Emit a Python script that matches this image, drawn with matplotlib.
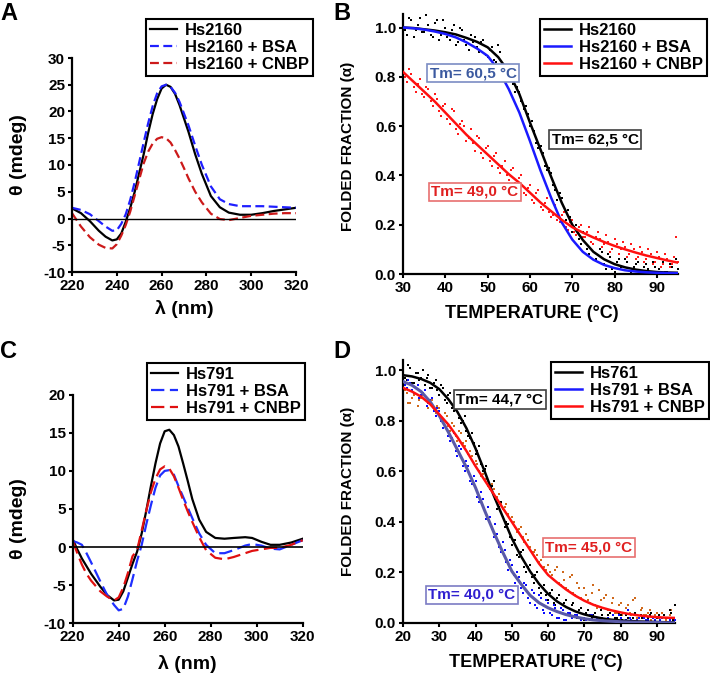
import numpy as np
import matplotlib
matplotlib.use('Agg')
import matplotlib.pyplot as plt
from matplotlib.lines import Line2D

plt.rcParams['font.family'] = ['Liberation Sans', 'DejaVu Sans']
plt.rcParams['font.weight'] = 'bold'
plt.rcParams['axes.unicode_minus'] = False

# ---------------- panel A : CD spectra Hs2160 ----------------
wl_a = [220, 224, 228, 232, 235, 238, 240, 242, 244, 246, 248, 250, 252, 254, 256, 258, 260,
        262, 264, 266, 268, 270, 272, 275, 278, 282, 286, 290, 295, 300, 305, 310, 315, 320]
hs2160 = [1.9, 1.0, -0.5, -2.3, -3.4, -4.1, -3.9, -2.8, -0.6, 2.0, 5.0, 8.5, 12.0, 16.0, 19.5,
          22.3, 24.3, 25.0, 24.6, 23.3, 21.2, 18.7, 16.2, 12.0, 8.3, 4.2, 2.1, 1.1, 0.7, 0.7,
          1.0, 1.4, 1.7, 2.0]
hs2160_bsa = [2.0, 1.6, 0.8, -0.5, -1.5, -2.3, -2.2, -1.0, 0.8, 3.5, 6.8, 10.5, 14.2, 17.8, 21.0,
              23.4, 24.7, 25.0, 24.6, 23.5, 21.8, 19.6, 17.4, 13.6, 10.0, 6.0, 3.6, 2.7, 2.3, 2.3,
              2.3, 2.2, 2.1, 2.0]
hs2160_cnbp = [1.0, -1.5, -3.5, -4.9, -5.5, -5.6, -4.8, -3.2, -1.2, 1.3, 4.3, 7.3, 10.3, 12.5, 14.0,
               14.9, 15.2, 15.0, 14.2, 12.8, 11.2, 9.4, 7.5, 5.0, 3.0, 0.9, -0.1, -0.3, 0.1, 0.5,
               0.7, 0.9, 1.0, 1.0]

# ---------------- panel C : CD spectra Hs791 ----------------
wl_c = [220, 222, 224, 226, 228, 232, 235, 238, 240, 242, 244, 246, 248, 250, 252, 254, 256, 258,
        260, 262, 264, 266, 268, 270, 272, 275, 278, 282, 286, 290, 295, 298, 302, 306, 310, 315, 320]
hs791 = [1.0, -0.3, -1.5, -2.5, -3.5, -5.2, -6.3, -7.0, -6.9, -5.8, -4.0, -2.2, -0.6, 1.8, 4.8,
         8.0, 11.0, 13.6, 15.2, 15.4, 14.7, 13.2, 11.0, 8.7, 6.3, 3.6, 2.0, 1.2, 1.1, 1.2, 1.3,
         1.2, 0.7, 0.3, 0.3, 0.6, 1.1]
hs791_bsa = [0.8, 0.6, 0.3, -0.8, -2.0, -4.5, -6.3, -7.6, -8.3, -8.1, -6.5, -4.2, -1.8, 0.3, 3.0,
             5.5, 7.8, 9.4, 10.0, 10.1, 9.5, 8.0, 6.6, 5.2, 3.8, 1.8, 0.3, -0.8, -0.8, -0.4, 0.2,
             0.4, 0.2, -0.2, -0.3, 0.3, 0.9]
hs791_cnbp = [0.8, -0.8, -2.3, -3.5, -4.4, -5.8, -6.5, -7.0, -6.6, -5.3, -3.4, -1.2, -0.4, 2.2, 4.8,
              7.2, 9.0, 10.2, 10.6, 10.3, 9.3, 7.8, 6.2, 4.7, 3.3, 1.3, -0.4, -1.4, -1.6, -1.3, -0.8,
              -0.5, -0.3, -0.1, -0.1, 0.3, 0.9]

# ---------------- panel B : melting Hs2160 ----------------
temp_b = [30, 32.5, 35, 37.5, 40, 42.5, 45, 47.5, 50, 52.5, 55, 57.5, 60, 62.5, 65, 67.5, 70,
          72.5, 75, 77.5, 80, 82.5, 85, 87.5, 90, 92.5, 95]
fit_b_black = [1.0, 0.998, 0.993, 0.988, 0.981, 0.972, 0.958, 0.942, 0.92, 0.88, 0.82, 0.73, 0.615,
               0.505, 0.395, 0.29, 0.2, 0.138, 0.09, 0.06, 0.04, 0.027, 0.018, 0.012, 0.008, 0.006, 0.005]
fit_b_blue = [1.0, 0.997, 0.992, 0.984, 0.974, 0.96, 0.94, 0.915, 0.885, 0.83, 0.75, 0.655, 0.54,
              0.42, 0.31, 0.21, 0.14, 0.09, 0.058, 0.037, 0.024, 0.015, 0.01, 0.007, 0.005, 0.004, 0.003]
fit_b_red = [0.82, 0.78, 0.74, 0.70, 0.655, 0.61, 0.565, 0.525, 0.485, 0.445, 0.405, 0.37, 0.33,
             0.29, 0.255, 0.22, 0.19, 0.168, 0.148, 0.13, 0.114, 0.1, 0.087, 0.075, 0.065, 0.055, 0.046]

# raw points, two scans (integer and half-degree temperatures)
scan1_b = np.arange(30, 96, 1)
scan2_b = np.arange(30.5, 95, 1)
dots_b_black1 = [1.02, 0.97, 1.03, 0.99, 1.04, 0.98, 1.01, 0.96, 1.03, 0.97,
                 1.00, 0.95, 1.01, 0.94, 0.99, 0.93, 0.97, 0.96, 0.90, 0.95,
                 0.88, 0.92, 0.86, 0.90, 0.82, 0.84, 0.77, 0.76, 0.70, 0.68,
                 0.60, 0.58, 0.51, 0.49, 0.42, 0.41, 0.34, 0.33, 0.25, 0.26,
                 0.17, 0.20, 0.12, 0.15, 0.08, 0.12, 0.05, 0.09, 0.02, 0.07,
                 0.01, 0.06, 0.00, 0.05, 0.01, 0.04, 0.00, 0.03, 0.02, 0.05,
                 0.00, 0.03, 0.01, 0.04, 0.00, 0.02]
dots_b_black2 = [0.99, 1.04, 0.96, 1.01, 0.98, 1.05, 0.97, 1.02, 0.95, 1.03,
                 0.96, 0.99, 0.93, 1.00, 0.95, 0.91, 0.94, 0.92, 0.94, 0.89,
                 0.91, 0.87, 0.93, 0.83, 0.85, 0.79, 0.74, 0.74, 0.67, 0.65,
                 0.62, 0.53, 0.52, 0.44, 0.43, 0.36, 0.30, 0.31, 0.22, 0.23,
                 0.19, 0.14, 0.17, 0.10, 0.13, 0.06, 0.10, 0.04, 0.08, 0.02,
                 0.05, 0.03, 0.06, 0.00, 0.03, 0.05, 0.01, 0.04, 0.00, 0.03,
                 0.02, 0.05, 0.01, 0.03, 0.06]
dots_b_red1 = [0.84, 0.78, 0.81, 0.74, 0.79, 0.72, 0.75, 0.68, 0.71, 0.64,
               0.69, 0.61, 0.66, 0.57, 0.62, 0.54, 0.59, 0.50, 0.55, 0.47,
               0.52, 0.44, 0.49, 0.41, 0.46, 0.38, 0.43, 0.35, 0.40, 0.32,
               0.36, 0.29, 0.34, 0.26, 0.31, 0.23, 0.28, 0.21, 0.25, 0.18,
               0.22, 0.16, 0.20, 0.15, 0.19, 0.12, 0.17, 0.11, 0.16, 0.09,
               0.14, 0.08, 0.13, 0.07, 0.12, 0.06, 0.11, 0.05, 0.10, 0.04,
               0.09, 0.03, 0.08, 0.03, 0.07, 0.05]
dots_b_red2 = [0.80, 0.83, 0.76, 0.77, 0.73, 0.76, 0.70, 0.73, 0.66, 0.68,
               0.63, 0.67, 0.59, 0.61, 0.60, 0.55, 0.53, 0.56, 0.49, 0.51,
               0.46, 0.48, 0.43, 0.44, 0.40, 0.42, 0.37, 0.39, 0.33, 0.35,
               0.30, 0.33, 0.27, 0.29, 0.25, 0.24, 0.22, 0.24, 0.19, 0.21,
               0.17, 0.19, 0.15, 0.17, 0.13, 0.15, 0.14, 0.12, 0.13, 0.10,
               0.12, 0.10, 0.11, 0.08, 0.10, 0.07, 0.09, 0.06, 0.08, 0.05,
               0.07, 0.04, 0.06, 0.04, 0.15]

# ---------------- panel D : melting Hs791 ----------------
temp_d = [20, 22.5, 25, 27.5, 30, 32.5, 35, 37.5, 40, 42.5, 45, 47.5, 50, 52.5, 55, 57.5, 60,
          62.5, 65, 67.5, 70, 72.5, 75, 77.5, 80, 82.5, 85, 87.5, 90, 92.5, 95]
fit_d_black = [0.98, 0.975, 0.965, 0.95, 0.925, 0.885, 0.835, 0.77, 0.69, 0.6, 0.505, 0.42, 0.335,
               0.265, 0.205, 0.155, 0.115, 0.085, 0.063, 0.046, 0.034, 0.025, 0.018, 0.013, 0.01,
               0.008, 0.006, 0.005, 0.004, 0.003, 0.003]
fit_d_blue = [0.955, 0.94, 0.915, 0.875, 0.82, 0.755, 0.685, 0.615, 0.535, 0.445, 0.36, 0.28, 0.205,
              0.155, 0.11, 0.08, 0.06, 0.045, 0.033, 0.024, 0.017, 0.012, 0.009, 0.007, 0.005,
              0.004, 0.003, 0.002, 0.002, 0.001, 0.001]
fit_d_red = [0.93, 0.915, 0.895, 0.865, 0.825, 0.785, 0.735, 0.68, 0.62, 0.565, 0.51, 0.455, 0.4,
             0.345, 0.29, 0.235, 0.19, 0.16, 0.132, 0.108, 0.088, 0.072, 0.06, 0.05, 0.042,
             0.035, 0.03, 0.026, 0.023, 0.021, 0.02]

scan1_d = np.arange(20, 96, 1)
scan2_d = np.arange(20.5, 95, 1)
dots_d_black1 = [1.00, 0.96, 1.01, 0.95, 0.99, 0.97, 0.94, 0.98, 0.93, 0.96,
                 0.90, 0.93, 0.87, 0.91, 0.84, 0.87, 0.79, 0.82, 0.74, 0.75,
                 0.67, 0.70, 0.60, 0.62, 0.53, 0.56, 0.45, 0.48, 0.38, 0.39,
                 0.31, 0.33, 0.26, 0.29, 0.20, 0.23, 0.16, 0.20, 0.12, 0.15,
                 0.09, 0.13, 0.07, 0.11, 0.05, 0.09, 0.03, 0.08, 0.02, 0.06,
                 0.01, 0.05, 0.02, 0.04, 0.00, 0.03, 0.01, 0.04, 0.00, 0.02,
                 0.03, 0.00, 0.02, 0.01, 0.04, 0.00, 0.02, 0.01, 0.03, 0.00,
                 0.02, 0.01, 0.03, 0.00, 0.04, 0.07]
dots_d_black2 = [0.97, 1.02, 0.95, 0.99, 0.96, 1.00, 0.97, 0.93, 0.95, 0.92,
                 0.94, 0.88, 0.90, 0.85, 0.86, 0.81, 0.80, 0.76, 0.73, 0.71,
                 0.68, 0.63, 0.61, 0.55, 0.54, 0.49, 0.46, 0.42, 0.40, 0.34,
                 0.33, 0.27, 0.28, 0.22, 0.22, 0.18, 0.19, 0.14, 0.14, 0.11,
                 0.12, 0.08, 0.10, 0.06, 0.08, 0.04, 0.07, 0.03, 0.05, 0.02,
                 0.04, 0.01, 0.03, 0.02, 0.05, 0.00, 0.03, 0.01, 0.02, 0.04,
                 0.01, 0.03, 0.00, 0.02, 0.01, 0.03, 0.00, 0.02, 0.04, 0.01,
                 0.03, 0.00, 0.02, 0.05, 0.01]
dots_d_blue1 = [0.97, 0.93, 0.95, 0.91, 0.94, 0.90, 0.92, 0.87, 0.89, 0.82,
                0.84, 0.77, 0.79, 0.72, 0.75, 0.66, 0.69, 0.60, 0.62, 0.55,
                0.56, 0.48, 0.49, 0.41, 0.42, 0.34, 0.35, 0.28, 0.29, 0.21,
                0.23, 0.16, 0.18, 0.12, 0.15, 0.08, 0.12, 0.06, 0.10, 0.04,
                0.08, 0.03, 0.06, 0.02, 0.05, 0.01, 0.04, 0.00, 0.03, 0.01,
                0.02, 0.00, 0.03, 0.01, 0.00, 0.02, 0.00, 0.01, 0.03, 0.00,
                0.02, 0.00, 0.05, 0.01, 0.00, 0.02, 0.00, 0.01, 0.00, 0.02,
                0.00, 0.01, 0.00, 0.02, 0.00, 0.01]
dots_d_blue2 = [0.94, 0.96, 0.92, 0.93, 0.89, 0.91, 0.86, 0.88, 0.84, 0.85,
                0.80, 0.78, 0.74, 0.73, 0.68, 0.70, 0.62, 0.64, 0.56, 0.58,
                0.50, 0.52, 0.44, 0.46, 0.37, 0.39, 0.30, 0.32, 0.24, 0.25,
                0.19, 0.20, 0.14, 0.16, 0.10, 0.13, 0.07, 0.11, 0.05, 0.09,
                0.04, 0.07, 0.02, 0.06, 0.01, 0.04, 0.02, 0.03, 0.00, 0.02,
                0.01, 0.03, 0.00, 0.02, 0.01, 0.00, 0.02, 0.00, 0.01, 0.03,
                0.00, 0.01, 0.02, 0.00, 0.01, 0.00, 0.02, 0.01, 0.00, 0.01,
                0.00, 0.02, 0.00, 0.01, 0.00]
dots_d_orange1 = [0.88, 0.91, 0.87, 0.90, 0.86, 0.89, 0.92, 0.85, 0.88, 0.83,
                  0.85, 0.80, 0.82, 0.76, 0.78, 0.72, 0.75, 0.70, 0.67, 0.66,
                  0.64, 0.60, 0.59, 0.57, 0.54, 0.53, 0.50, 0.47, 0.46, 0.43,
                  0.42, 0.38, 0.37, 0.34, 0.35, 0.30, 0.28, 0.27, 0.25, 0.22,
                  0.23, 0.19, 0.21, 0.16, 0.20, 0.14, 0.18, 0.12, 0.16, 0.10,
                  0.14, 0.09, 0.12, 0.07, 0.13, 0.06, 0.11, 0.05, 0.10, 0.04,
                  0.08, 0.04, 0.07, 0.03, 0.10, 0.02, 0.06, 0.03, 0.05, 0.02,
                  0.04, 0.01, 0.03, 0.02, 0.05, 0.01]
dots_d_orange2 = [0.92, 0.87, 0.89, 0.93, 0.88, 0.90, 0.86, 0.88, 0.84, 0.86,
                  0.81, 0.83, 0.78, 0.79, 0.74, 0.76, 0.71, 0.72, 0.68, 0.63,
                  0.63, 0.58, 0.60, 0.54, 0.55, 0.49, 0.51, 0.45, 0.47, 0.41,
                  0.40, 0.36, 0.38, 0.32, 0.33, 0.28, 0.29, 0.24, 0.26, 0.21,
                  0.20, 0.17, 0.22, 0.15, 0.17, 0.13, 0.19, 0.11, 0.14, 0.09,
                  0.11, 0.08, 0.15, 0.06, 0.09, 0.10, 0.05, 0.08, 0.04, 0.07,
                  0.03, 0.06, 0.04, 0.09, 0.02, 0.05, 0.03, 0.04, 0.01, 0.03,
                  0.02, 0.04, 0.01, 0.03, 0.02]

W, H = 710, 673
fig = plt.figure(figsize=(W / 100, H / 100), dpi=100)
DOT = 3.5


def px_axes(x0, y0, x1, y1):
    # axes box given in pixels (left, top, right, bottom)
    return fig.add_axes([x0 / W, 1 - y1 / H, (x1 - x0) / W, (y1 - y0) / H])


def style(ax):
    for s in ['top', 'right']:
        ax.spines[s].set_visible(False)
    for s in ['left', 'bottom']:
        ax.spines[s].set_linewidth(1.6)
    ax.tick_params(direction='out', length=3, width=1.5, labelsize=11, pad=2)
    for lab in ax.get_xticklabels() + ax.get_yticklabels():
        lab.set_fontweight('bold')


def legend(ax, handles, labels, right, top):
    leg = ax.legend(handles, labels, loc='upper right', bbox_to_anchor=(right / W, 1 - top / H),
                    bbox_transform=fig.transFigure, fontsize=12, frameon=True, fancybox=False,
                    edgecolor='black', framealpha=1, borderpad=0.25, labelspacing=0.12,
                    handlelength=1.6, handletextpad=0.5, borderaxespad=0)
    leg.get_frame().set_linewidth(1.5)
    for t in leg.get_texts():
        t.set_fontweight('bold')


def tm_box(ax, x, y, s, color, edge):
    ax.text(x, y, s, color=color, fontsize=11, fontweight='bold', ha='center', va='center',
            zorder=10, bbox=dict(boxstyle='square,pad=0.15', fc='white', ec=edge, lw=1.2))


# ---- A ----
axA = px_axes(72, 58, 296, 272)
la, = axA.plot(wl_a, hs2160, color='black', lw=1.6)
lb, = axA.plot(wl_a, hs2160_bsa, color='#1f1fff', lw=1.6, dashes=(4, 2))
lc, = axA.plot(wl_a, hs2160_cnbp, color='#cc1a1a', lw=1.6, dashes=(4, 2))
axA.axhline(0, color='black', lw=1)
axA.set_xlim(220, 320)
axA.set_ylim(-10, 30)
axA.set_xticks([220, 240, 260, 280, 300, 320])
axA.set_yticks(range(-10, 31, 5))
axA.set_xlabel('λ (nm)', fontsize=14, fontweight='bold')
axA.set_ylabel('θ (mdeg)', fontsize=14, fontweight='bold')
axA.xaxis.set_label_coords(0.5, -0.13)
axA.yaxis.set_label_coords(-0.2, 0.55)
style(axA)
legend(axA, [la, lb, lc], ['Hs2160', 'Hs2160 + BSA', 'Hs2160 + CNBP'], 313, 19)

# ---- C ----
axC = px_axes(72.7, 394.7, 302.7, 623.3)
la, = axC.plot(wl_c, hs791, color='black', lw=1.6)
lb, = axC.plot(wl_c, hs791_bsa, color='#1f2fff', lw=1.6, dashes=(6, 2.5))
lc, = axC.plot(wl_c, hs791_cnbp, color='#e01010', lw=1.6, dashes=(6, 2.5))
axC.axhline(0, color='black', lw=1.2)
axC.set_xlim(220, 320)
axC.set_ylim(-10, 20)
axC.set_xticks([220, 240, 260, 280, 300, 320])
axC.set_yticks(range(-10, 21, 5))
axC.set_xlabel('λ (nm)', fontsize=14, fontweight='bold')
axC.set_ylabel('θ (mdeg)', fontsize=14, fontweight='bold')
axC.xaxis.set_label_coords(0.5, -0.14)
axC.yaxis.set_label_coords(-0.197, 0.46)
style(axC)
legend(axC, [la, lb, lc], ['Hs791', 'Hs791 + BSA', 'Hs791 + CNBP'], 305, 363)

# ---- B ----
axB = px_axes(403, 14, 678, 274)
axB.scatter(scan1_b, dots_b_black1, s=DOT, marker='s', color='black', lw=0, zorder=2)
axB.scatter(scan2_b, dots_b_black2, s=DOT, marker='s', color='black', lw=0, zorder=2)
axB.scatter(scan1_b, dots_b_red1, s=DOT, marker='s', color='#ff1a1a', lw=0, zorder=2)
axB.scatter(scan2_b, dots_b_red2, s=DOT, marker='s', color='#ff1a1a', lw=0, zorder=2)
la, = axB.plot(temp_b, fit_b_black, color='black', lw=1.8, zorder=3)
lb, = axB.plot(temp_b, fit_b_blue, color='#1a1aff', lw=1.8, zorder=3)
lc, = axB.plot(temp_b, fit_b_red, color='#ff1010', lw=1.8, zorder=3)
axB.set_xlim(30, 95)
axB.set_ylim(0, 1.055)
axB.set_xticks(range(30, 91, 10))
axB.set_yticks([0, 0.2, 0.4, 0.6, 0.8, 1.0])
axB.yaxis.set_major_formatter(matplotlib.ticker.FormatStrFormatter('%.1f'))
axB.set_xlabel('TEMPERATURE (°C)', fontsize=13, fontweight='bold')
axB.set_ylabel('FOLDED FRACTION (α)', fontsize=11, fontweight='bold')
axB.xaxis.set_label_coords(0.47, -0.12)
axB.yaxis.set_label_coords(-0.175, 0.49)
style(axB)
legend(axB, [la, lb, lc], ['Hs2160', 'Hs2160 + BSA', 'Hs2160 + CNBP'], 707, 19)
tm_box(axB, 46.6, 0.815, 'Tm= 60,5 °C', '#3c5aa0', '#7c8cc4')
tm_box(axB, 75.4, 0.545, 'Tm= 62,5 °C', 'black', '#404040')
tm_box(axB, 47.0, 0.333, 'Tm= 49,0 °C', '#e02020', '#e87070')

# ---- D ----
axD = px_axes(403, 360, 675, 623)
axD.scatter(scan1_d, dots_d_orange1, s=DOT, marker='s', color='#d0691c', lw=0, zorder=2)
axD.scatter(scan2_d, dots_d_orange2, s=DOT, marker='s', color='#d0691c', lw=0, zorder=2)
axD.scatter(scan1_d, dots_d_black1, s=DOT, marker='s', color='black', lw=0, zorder=2)
axD.scatter(scan2_d, dots_d_black2, s=DOT, marker='s', color='black', lw=0, zorder=2)
axD.scatter(scan1_d, dots_d_blue1, s=DOT, marker='s', color='#0a0aff', lw=0, zorder=2)
axD.scatter(scan2_d, dots_d_blue2, s=DOT, marker='s', color='#0a0aff', lw=0, zorder=2)
axD.plot(temp_d, fit_d_black, color='black', lw=1.8, zorder=3)
axD.plot(temp_d, fit_d_blue, color='#5a5aa8', lw=2.2, zorder=3)
axD.plot(temp_d, fit_d_red, color='#ff1010', lw=1.8, zorder=3)
axD.set_xlim(20, 95)
axD.set_ylim(0, 1.04)
axD.set_xticks(range(20, 91, 10))
axD.set_yticks([0, 0.2, 0.4, 0.6, 0.8, 1.0])
axD.yaxis.set_major_formatter(matplotlib.ticker.FormatStrFormatter('%.1f'))
axD.set_xlabel('TEMPERATURE (°C)', fontsize=13, fontweight='bold')
axD.set_ylabel('FOLDED FRACTION (α)', fontsize=11, fontweight='bold')
axD.xaxis.set_label_coords(0.49, -0.118)
axD.yaxis.set_label_coords(-0.176, 0.5)
style(axD)
handles_d = [Line2D([], [], color='black', lw=1.8), Line2D([], [], color='#1a1aff', lw=1.8),
             Line2D([], [], color='#ff1010', lw=1.8)]
legend(axD, handles_d, ['Hs761', 'Hs791 + BSA', 'Hs791 + CNBP'], 709, 362)
tm_box(axD, 46.7, 0.883, 'Tm= 44,7 °C', 'black', '#404040')
tm_box(axD, 71.2, 0.298, 'Tm= 45,0 °C', '#e02020', '#e87070')
tm_box(axD, 39.0, 0.111, 'Tm= 40,0 °C', '#3020d0', '#7c7cc4')

# panel letters
for s, x, y in [('A', 0, 2), ('B', 333, 2), ('C', 0, 340), ('D', 333, 340)]:
    fig.text(x / W, 1 - y / H, s, fontsize=17, fontweight='bold', ha='left', va='top')

fig.savefig('out.png', dpi=100)
